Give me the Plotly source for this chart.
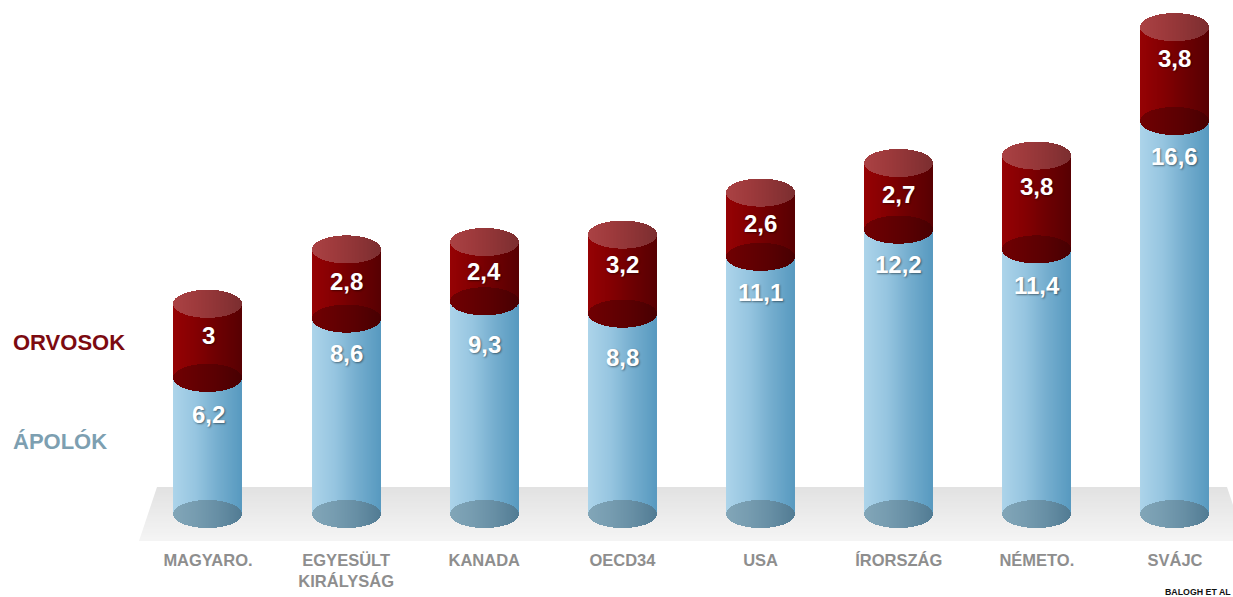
import numpy as np
import plotly.graph_objects as go

# Staff per 1000 inhabitants, by country
categories = ["MAGYARO.", "EGYESÜLT<br>KIRÁLYSÁG", "KANADA", "OECD34", "USA", "ÍRORSZÁG", "NÉMETO.", "SVÁJC"]
apolok = [6.2, 8.6, 9.3, 8.8, 11.1, 12.2, 11.4, 16.6]
orvosok = [3.0, 2.8, 2.4, 3.2, 2.6, 2.7, 3.8, 3.8]
orvos_labels = ["3", "2,8", "2,4", "3,2", "2,6", "2,7", "3,8", "3,8"]
apolo_labels = ["6,2", "8,6", "9,3", "8,8", "11,1", "12,2", "11,4", "16,6"]

# Figure geometry
W, H = 1233, 597
PLOT_H = 541
UNIT_Y = 24.7      # pixels per value unit
ZERO_Y = 531       # pixel row of value 0
UNIT_X = 138.14    # pixels between cylinders
FIRST_X = 208      # pixel column of the first cylinder
RADIUS_PX = 34
ELLIPSE_PX = 14
STRIPES = 68
FLOOR_LEVEL = (ZERO_Y - 514) / UNIT_Y  # value where the cylinders meet the floor

# Pixel nudges for the value labels
orvos_shift = [-5, -3, 0, -10, -1, -2, -16, -16]
apolo_shift = [37, 35, 43, 44, 36, 35, 36, 36]


def lerp_colors(stops, t):
    """Piecewise-linear colour ramp; t in [0, 1]."""
    pos = np.linspace(0, 1, len(stops))
    rgb = [np.interp(t, pos, [s[i] for s in stops]) for i in range(3)]
    return "rgb(%d,%d,%d)" % tuple(int(round(c)) for c in rgb)


# Horizontal shading of each cylinder part
BODY_BLUE = [(172, 212, 234), (150, 197, 224), (116, 173, 206), (88, 154, 192)]
BODY_RED = [(150, 2, 4), (132, 0, 2), (108, 0, 2), (88, 0, 2)]
CAP_RED = [(170, 66, 68), (158, 58, 60), (142, 52, 54), (124, 46, 48)]
JOINT_RED = [(112, 0, 2), (100, 0, 2), (88, 0, 2), (72, 0, 2)]
FOOT_BLUE = [(130, 166, 184), (118, 156, 176), (102, 142, 164), (82, 124, 148)]

half_w = RADIUS_PX / UNIT_X
ell = ELLIPSE_PX / UNIT_Y
stripe_w = 2 * half_w / STRIPES
offsets = (np.arange(STRIPES) + 0.5) / STRIPES * 2 - 1   # -1..1 across a cylinder
arc = ell * np.sqrt(1 - offsets ** 2)                    # half height of the ellipse per stripe
shade = (offsets + 1) / 2


def stripes_trace(levels_low, levels_high, ramp):
    """One bar per vertical stripe per cylinder, running between the two level arrays."""
    xs, bases, heights, colors = [], [], [], []
    for i in range(len(categories)):
        for j in range(STRIPES):
            xs.append(i + offsets[j] * half_w)
            bases.append(levels_low(i, j))
            heights.append(levels_high(i, j) - levels_low(i, j))
            colors.append(lerp_colors(ramp, shade[j]))
    return go.Bar(x=xs, y=heights, base=bases, width=stripe_w * 1.02,
                  marker=dict(color=colors, line=dict(width=0)),
                  hoverinfo="skip", showlegend=False)


tops = [a + o for a, o in zip(apolok, orvosok)]

fig = go.Figure()
# Nurses' column from the floor up to its value
fig.add_trace(stripes_trace(lambda i, j: FLOOR_LEVEL, lambda i, j: apolok[i], BODY_BLUE))
# Foot ellipse on the floor
fig.add_trace(stripes_trace(lambda i, j: FLOOR_LEVEL - arc[j], lambda i, j: FLOOR_LEVEL + arc[j], FOOT_BLUE))
# Doctors' column stacked on the nurses
fig.add_trace(stripes_trace(lambda i, j: apolok[i], lambda i, j: tops[i], BODY_RED))
# Ellipse where the two columns join
fig.add_trace(stripes_trace(lambda i, j: apolok[i] - arc[j], lambda i, j: apolok[i] + arc[j], JOINT_RED))
# Top cap
fig.add_trace(stripes_trace(lambda i, j: tops[i] - arc[j], lambda i, j: tops[i] + arc[j], CAP_RED))

# Grey floor as a trapezoid with a soft vertical fade
to_paper_y = lambda py: 1 - py / PLOT_H
floor_top, floor_bottom = 487, 541
shapes = []
rows = np.arange(floor_top, floor_bottom, 2)
for r in rows:
    t = (r - floor_top) / (floor_bottom - floor_top)
    r2 = r + 2
    lx1, lx2 = 157 - 18 * t, 157 - 18 * (t + 2 / 54)
    rx1, rx2 = 1227 + 18 * t, 1227 + 18 * (t + 2 / 54)
    g = int(round(226 + (245 - 226) * t))
    shapes.append(dict(
        type="path", xref="paper", yref="paper", layer="below",
        path="M%.5f,%.5f L%.5f,%.5f L%.5f,%.5f L%.5f,%.5f Z" % (
            lx1 / W, to_paper_y(r), rx1 / W, to_paper_y(r),
            rx2 / W, to_paper_y(r2), lx2 / W, to_paper_y(r2)),
        fillcolor="rgb(%d,%d,%d)" % (g, g, g), line=dict(width=0)))

annotations = []
value_font = dict(family="Liberation Sans", size=24, color="white",
                  weight="bold", shadow="1px 1px 2px rgba(0,0,0,0.45)")
for i in range(len(categories)):
    annotations.append(dict(x=i, y=apolok[i] + orvosok[i] / 2, xref="x", yref="y",
                            text=orvos_labels[i], showarrow=False, yshift=-orvos_shift[i],
                            font=value_font))
    annotations.append(dict(x=i, y=apolok[i], xref="x", yref="y",
                            text=apolo_labels[i], showarrow=False, yshift=-apolo_shift[i],
                            font=value_font))

# Series names at the left
for name, py, colour in (("ORVOSOK", 342, "#7c0a10"), ("ÁPOLÓK", 441, "#7d9fb1")):
    annotations.append(dict(x=11 / W, y=to_paper_y(py), xref="paper", yref="paper",
                            xanchor="left", yanchor="middle", text=name, showarrow=False,
                            font=dict(family="Liberation Sans", size=22, color=colour, weight="bold")))

# Source note in the bottom right corner
annotations.append(dict(x=1163 / W, y=to_paper_y(592), xref="paper", yref="paper",
                        xanchor="left", yanchor="middle", text="BALOGH ET AL", showarrow=False,
                        font=dict(family="Liberation Sans", size=8.8, color="#111111", weight="bold")))

fig.update_layout(
    width=W, height=H, autosize=False, barmode="overlay", bargap=0,
    margin=dict(l=0, r=0, t=0, b=H - PLOT_H, pad=0),
    paper_bgcolor="white", plot_bgcolor="rgba(0,0,0,0)",
    shapes=shapes, annotations=annotations, showlegend=False,
    xaxis=dict(range=[-FIRST_X / UNIT_X, (W - FIRST_X) / UNIT_X], tickmode="array",
               tickvals=list(range(len(categories))), ticktext=categories,
               showgrid=False, zeroline=False, showline=False, ticks="", ticklabelstandoff=7,
               tickfont=dict(family="Liberation Sans", size=16.5, color="#8e8e8e", weight="bold")),
    yaxis=dict(range=[(ZERO_Y - PLOT_H) / UNIT_Y, ZERO_Y / UNIT_Y], visible=False),
)

fig.write_html("out.html", config=dict(displayModeBar=False))
